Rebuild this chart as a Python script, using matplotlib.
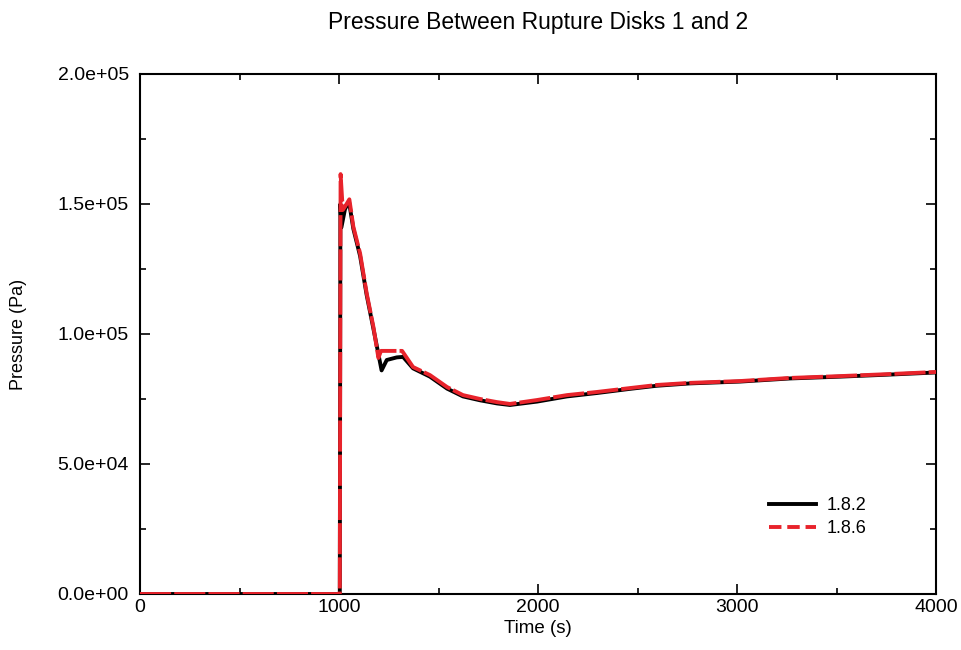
import matplotlib
matplotlib.use("Agg")
import matplotlib.pyplot as plt
from matplotlib.ticker import MultipleLocator, FuncFormatter
from matplotlib.lines import Line2D

plt.rcParams['font.family'] = ['Liberation Sans', 'DejaVu Sans']

# Data
black_t = [0, 1000, 1004, 1007, 1012, 1030, 1050, 1072, 1106, 1139, 1173, 1200, 1214, 1240,
           1290, 1322, 1372, 1457, 1543, 1623, 1709, 1794, 1859, 1995, 2146, 2296, 2462,
           2598, 2764, 3015, 3266, 3518, 3769, 4000]
black_p = [0, 0, 0, 150000, 141000, 148000, 151000, 140500, 130000, 115000, 102000, 91500,
           86000, 90000, 91000, 91200, 86800, 83600, 79000, 76000, 74500, 73300, 72700,
           74000, 76000, 77300, 78900, 80100, 81000, 81700, 82900, 83600, 84400, 85200]

red_t = [0, 1000, 1004, 1008, 1019, 1035, 1052, 1072, 1106, 1139, 1173, 1198, 1211, 1317,
         1372, 1457, 1543, 1623, 1709, 1794, 1859, 1995, 2146, 2296, 2462, 2598, 2764,
         3015, 3266, 3518, 3769, 4000]
red_p = [0, 0, 0, 161500, 147700, 149600, 151800, 141300, 131000, 115700, 102700, 90800,
         93500, 93500, 87300, 84200, 79600, 76500, 75000, 73800, 73100, 74600, 76500,
         77700, 79200, 80400, 81200, 81900, 83100, 83800, 84600, 85400]

series_labels = ["1.8.2", "1.8.6"]
RED = "#e8232b"

fig = plt.figure(figsize=(9.61, 6.5), dpi=100)
ax = fig.add_axes([140/961, 56/650, 796/961, 520/650])

ax.plot(black_t, black_p, color="black", lw=2.8, zorder=2)
ax.plot(red_t, red_p, color=RED, lw=2.8, ls=(0, (8, 0.8)), zorder=3)

ax.set_xlim(0, 4000)
ax.set_ylim(0, 200000)
ax.xaxis.set_major_locator(MultipleLocator(1000))
ax.xaxis.set_minor_locator(MultipleLocator(500))
ax.yaxis.set_major_locator(MultipleLocator(50000))
ax.yaxis.set_minor_locator(MultipleLocator(25000))
ax.yaxis.set_major_formatter(FuncFormatter(lambda v, p: f"{v:.1e}"))
ax.tick_params(which="both", direction="in", top=True, right=True, labelsize=14, width=1.2)
ax.tick_params(axis="y", pad=8)
ax.tick_params(which="major", length=7)
ax.tick_params(which="minor", length=4)
for s in ax.spines.values():
    s.set_linewidth(1.5)

ax.set_xlabel("Time (s)", fontsize=13.5, labelpad=3)
ax.set_ylabel("Pressure (Pa)", fontsize=13, labelpad=22)
fig.text(538/961, 1 - 22/650, "Pressure Between Rupture Disks 1 and 2", ha="center", va="center", fontsize=16.5)

handles = [Line2D([], [], color="black", lw=2.8),
           Line2D([], [], color=RED, lw=2.8, ls=(0, (3.2, 1.5)))]
ax.legend(handles, series_labels, loc="upper left", bbox_to_anchor=(0.77, 0.218), frameon=False,
          fontsize=13, handlelength=2.6, handletextpad=0.6, labelspacing=0.35)

fig.savefig("out.png", dpi=100)
